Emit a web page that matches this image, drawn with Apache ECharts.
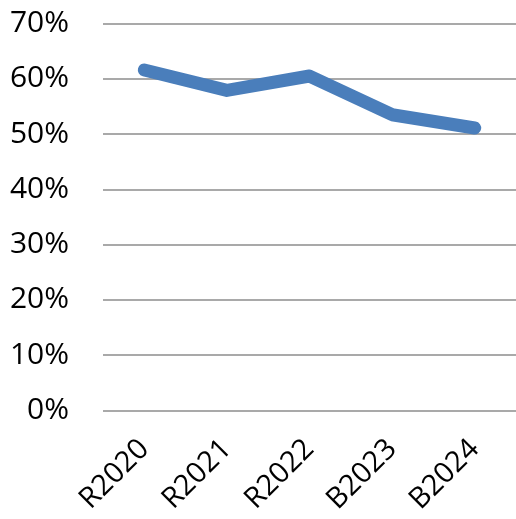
<!DOCTYPE html>
<html>
<head>
<meta charset="utf-8">
<script src="https://cdn.jsdelivr.net/npm/echarts@6/dist/echarts.min.js"></script>
<style>
  html, body { margin: 0; padding: 0; background: #fff; }
  #chart { width: 516px; height: 519px; }
</style>
</head>
<body>
<div id="chart"></div>
<script>
// categories and values (percent)
const categories = ['R2020', 'R2021', 'R2022', 'B2023', 'B2024']
const shareValues = [61.6, 57.9, 60.5, 53.5, 51.1]

const chart = echarts.init(document.getElementById('chart'))
const font = '"Open Sans", "Noto Sans", sans-serif'

chart.setOption({
  animation: false,
  grid: {
    left: 103,
    right: 0,
    top: 23.5,
    bottom: 108.5,
    containLabel: false
  },
  xAxis: {
    type: 'category',
    data: categories,
    boundaryGap: true,
    axisLine: { show: false },
    axisTick: { show: false },
    axisLabel: {
      rotate: 45,
      margin: 34,
      fontSize: 29,
      fontFamily: font,
      color: '#000'
    }
  },
  yAxis: {
    type: 'value',
    min: 0,
    max: 70,
    interval: 10,
    axisLine: { show: false },
    axisTick: { show: false },
    splitLine: { lineStyle: { color: '#8c8c8c', width: 1.5 } },
    axisLabel: {
      formatter: '{value}%',
      margin: 34,
      fontSize: 30,
      fontFamily: font,
      color: '#000'
    }
  },
  series: [{
    type: 'line',
    data: shareValues,
    symbol: 'none',
    lineStyle: { color: '#4a7ebb', width: 13, cap: 'round', join: 'round' }
  }]
})
</script>
</body>
</html>
